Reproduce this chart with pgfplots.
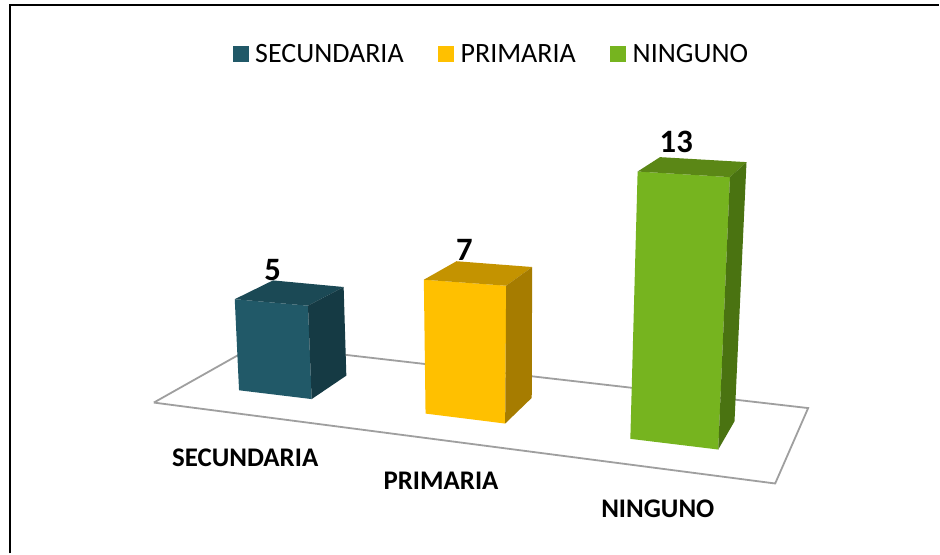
\documentclass[border=0pt]{standalone}
\usepackage{fontspec}
\setmainfont{Carlito}
\usepackage{pgfplots}
\pgfplotsset{compat=1.18}
\definecolor{tealF}{HTML}{215968}
\definecolor{tealT}{HTML}{1B4955}
\definecolor{tealS}{HTML}{153A44}
\definecolor{yelF}{HTML}{FFC000}
\definecolor{yelT}{HTML}{C49300}
\definecolor{yelS}{HTML}{A67C00}
\definecolor{grnF}{HTML}{76B41F}
\definecolor{grnT}{HTML}{5B8716}
\definecolor{grnS}{HTML}{4A7311}
\pgfplotsset{
  legsq/.style={legend image code/.code={\fill[##1] (0bp,-8bp) rectangle (16bp,8bp);}},
}
\begin{document}
\begin{tikzpicture}
\begin{axis}[
  scale only axis, width=940bp, height=554bp,
  xmin=0, xmax=940, ymin=0, ymax=554, y dir=reverse,
  hide axis, clip=false,
  legend columns=3,
  legend style={draw=none, fill=none, at={(axis cs:233,54)}, anchor=west, inner sep=0pt, outer sep=0pt,
    font=\fontsize{28.1}{30}\selectfont,
    /tikz/every odd column/.append style={column sep=4.5bp},
    /tikz/every even column/.append style={column sep=32.5bp}},
  legend cell align=left,
]
% page
\addplot[draw=none, fill=white, forget plot] coordinates {(0,0) (940,0) (940,554) (0,554) (0,0)};
% frame
\addplot[black, line width=2bp, forget plot] coordinates {(10.5,554) (10.5,5) (940,5)};
% floor
\addplot[draw=gray!75, line width=1.8bp, fill=white, forget plot] coordinates {(154,403) (776,484) (809,408.5) (257,345) (154,403)};
% bar 1
\addplot[draw=none, fill=tealF, legsq] coordinates {(235,299.5) (308.3,306) (312,399.5) (239.3,390.7) (235,299.5)};
\addlegendentry{SECUNDARIA}
\addplot[draw=none, fill=tealT, forget plot] coordinates {(235,299.5) (273.3,280.7) (344,287.3) (308.3,306) (235,299.5)};
\addplot[draw=none, fill=tealS, forget plot] coordinates {(308.3,306) (344,287.3) (346.7,376) (312,399.5) (308.3,306)};
% bar 2
\addplot[draw=none, fill=yelF, legsq] coordinates {(424.3,280) (506.7,286) (505.7,424) (426,414) (424.3,280)};
\addlegendentry{PRIMARIA}
\addplot[draw=none, fill=yelT, forget plot] coordinates {(424.3,280) (457,261.5) (532.7,267.3) (506.7,286) (424.3,280)};
\addplot[draw=none, fill=yelS, forget plot] coordinates {(506.7,286) (532.7,267.3) (532.3,398.3) (505.7,424) (506.7,286)};
% bar 3
\addplot[draw=none, fill=grnF, legsq] coordinates {(638.3,171.7) (730.7,177.3) (719,450) (631,439.3) (638.3,171.7)};
\addlegendentry{NINGUNO}
\addplot[draw=none, fill=grnT, forget plot] coordinates {(638.3,171.7) (660.7,157.3) (747.3,162.3) (730.7,177.3) (638.3,171.7)};
\addplot[draw=none, fill=grnS, forget plot] coordinates {(730.7,177.3) (747.3,162.3) (735.3,421.7) (719,450) (730.7,177.3)};
% data labels
\addplot[draw=none, forget plot, point meta=explicit symbolic,
  nodes near coords, nodes near coords style={anchor=center, inner sep=0pt, text=black, font=\fontsize{32.8}{34}\bfseries\selectfont}]
  coordinates {(273,270.5) [5] (465,250) [7] (677,142) [13]};
% category labels
\addplot[draw=none, forget plot, point meta=explicit symbolic,
  nodes near coords, nodes near coords style={anchor=center, inner sep=0pt, text=black, font=\fontsize{27}{28}\bfseries\selectfont}]
  coordinates {(245.5,458) [SECUNDARIA] (441.5,481) [PRIMARIA] (658.5,509) [NINGUNO]};
\end{axis}
\end{tikzpicture}
\end{document}
